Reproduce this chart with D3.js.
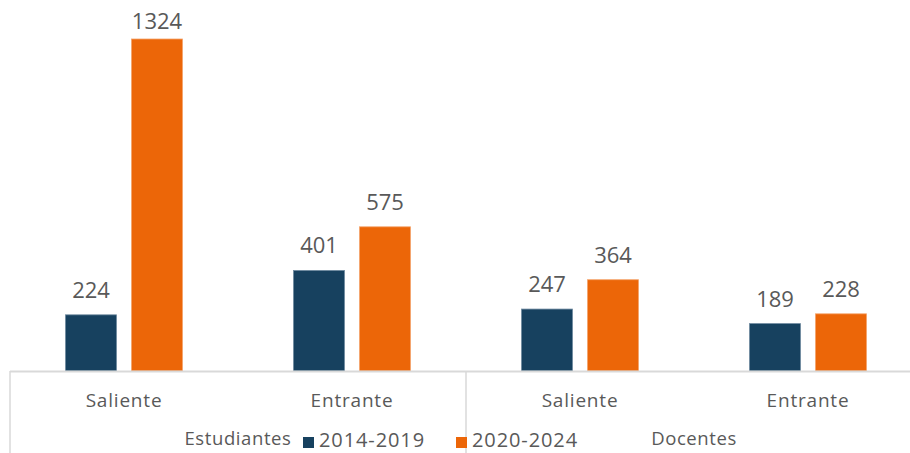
<!DOCTYPE html>
<html><head><meta charset="utf-8">
<script src="https://cdn.jsdelivr.net/npm/d3@7"></script>
<style>
html,body{margin:0;padding:0;background:#fff;}
svg text{font-family:"Open Sans","Noto Sans",sans-serif;fill:#595959;}
</style></head>
<body><svg id="c" width="910" height="453"></svg>
<script>
const groups = ["Estudiantes","Docentes"];
const categories = ["Saliente","Entrante","Saliente","Entrante"];
const seriesNames = ["2014-2019","2020-2024"];
const series1 = [224,401,247,189];
const series2 = [1324,575,364,228];
const colors = ["#17415F","#EC6608"];

(function(){
const svg = d3.select("#c");
const left = 10, bandW = 228, base = 371, plotTop = 39;
const idx = d3.range(categories.length);
const x = d3.scaleBand().domain(idx).range([left, left + bandW*categories.length]).paddingInner(0).paddingOuter(0);
const y = d3.scaleLinear().domain([0,1324]).range([base, plotTop]);
const innerW = 117;
const inner = d3.scaleBand().domain([0,1]).range([0,innerW]).paddingInner(15/66);
const barOff = (bandW - innerW)/2;

const data = [series1, series2];
data.forEach((s,si)=>{
  svg.append("g").selectAll("rect").data(idx).join("rect")
    .attr("x", i=> x(i)+barOff+inner(si))
    .attr("y", i=> y(s[i]))
    .attr("width", inner.bandwidth())
    .attr("height", i=> base - y(s[i]))
    .attr("fill", colors[si])
    .attr("stroke", si===0 ? "#6F8AA0" : "#F4A36B")
    .attr("stroke-width", 0.8);
  svg.append("g").selectAll("text").data(idx).join("text")
    .attr("x", i=> x(i)+barOff+inner(si)+inner.bandwidth()/2)
    .attr("y", i=> Math.max(y(s[i]) - 17, 29))
    .attr("text-anchor","middle")
    .attr("font-size", 22)
    .text(i=> s[i]);
});

svg.append("line").attr("x1",left).attr("x2",910).attr("y1",base+0.5).attr("y2",base+0.5)
  .attr("stroke","#D9D9D9").attr("stroke-width",2);
[0,2,4].forEach(k=>{
  const xx = left + bandW*k;
  svg.append("line").attr("x1",xx).attr("x2",xx).attr("y1",base).attr("y2",453)
    .attr("stroke","#D9D9D9").attr("stroke-width",1.5);
});
svg.append("g").selectAll("text").data(idx).join("text")
  .attr("x", i=> x(i)+bandW/2)
  .attr("y", 407)
  .attr("text-anchor","middle")
  .attr("font-size", 19)
  .attr("letter-spacing", 0.8)
  .text(i=> categories[i]);
svg.append("g").selectAll("text").data(groups).join("text")
  .attr("x", (d,g)=> left + bandW*(2*g+1))
  .attr("y", 445)
  .attr("text-anchor","middle")
  .attr("font-size", 18.5)
  .attr("letter-spacing", 0.6)
  .text(d=>d);
const legX = [303, 456];
seriesNames.forEach((n,si)=>{
  svg.append("rect").attr("x",legX[si]).attr("y",437).attr("width",11).attr("height",11).attr("fill",colors[si]);
  svg.append("text").attr("x",legX[si]+16).attr("y",447).attr("font-size",20).attr("letter-spacing",0.9).text(n);
});
})();
</script></body></html>
